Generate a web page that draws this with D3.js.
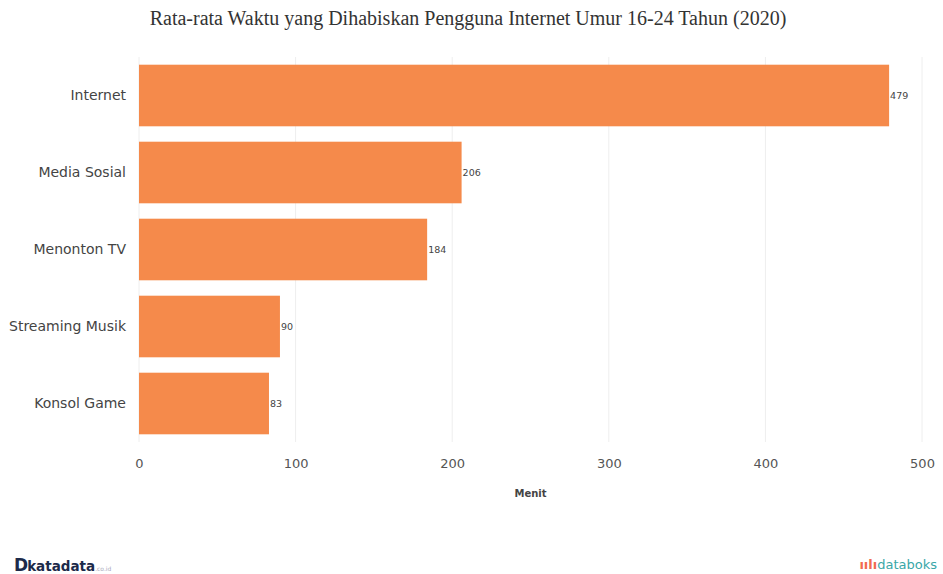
<!DOCTYPE html>
<html>
<head>
<meta charset="utf-8">
<script src="https://cdn.jsdelivr.net/npm/d3@7"></script>
<style>
    body { margin: 0; background: #fff; }
    .tick text { font-family: Verdana, 'DejaVu Sans', sans-serif; }
</style>
</head>
<body>
<div id="chart"></div>
<script>
const categories = ['Internet', 'Media Sosial', 'Menonton TV', 'Streaming Musik', 'Konsol Game'];
const values = [479, 206, 184, 90, 83];
const xTicks = [0, 100, 200, 300, 400, 500];

const data = categories.map((c, i) => ({ kategori: c, menit: values[i] }));

const width = 943;
const height = 574;
const margin = {top: 57, right: 21, bottom: 132, left: 139};
const sans = "Verdana, 'DejaVu Sans', sans-serif";

const svg = d3.select('#chart')
    .append('svg')
    .attr('width', width)
    .attr('height', height);

const x = d3.scaleLinear()
    .domain([0, 500])
    .range([margin.left, width - margin.right]);
const y = d3.scaleBand()
    .domain(categories)
    .range([margin.top, height - margin.bottom])
    .paddingInner(0.2)
    .paddingOuter(0.1);

// title
svg.append('text')
    .attr('x', 468)
    .attr('y', 25)
    .attr('text-anchor', 'middle')
    .style('font-family', "'Liberation Serif', 'Times New Roman', serif")
    .style('font-size', '20px')
    .style('fill', '#333')
    .text('Rata-rata Waktu yang Dihabiskan Pengguna Internet Umur 16-24 Tahun (2020)');

// grid
svg.append('g').selectAll('line')
    .data(xTicks)
    .enter()
    .append('line')
        .attr('x1', d => x(d))
        .attr('x2', d => x(d))
        .attr('y1', margin.top)
        .attr('y2', height - margin.bottom)
        .attr('stroke', '#eeeeee')
        .attr('stroke-width', 1);

// bars
svg.append('g').selectAll('rect')
    .data(data)
    .enter()
    .append('rect')
        .attr('x', x(0))
        .attr('y', d => y(d.kategori))
        .attr('width', d => x(d.menit) - x(0))
        .attr('height', y.bandwidth())
        .attr('fill', '#f58a4b');

// value labels
svg.append('g').selectAll('text')
    .data(data)
    .enter()
    .append('text')
        .attr('x', d => x(d.menit) + 1)
        .attr('y', d => y(d.kategori) + y.bandwidth() / 2 + 3.5)
        .style('font-family', sans)
        .style('font-size', '9.5px')
        .style('fill', '#444')
        .text(d => d.menit);

// category labels
svg.append('g').selectAll('text')
    .data(data)
    .enter()
    .append('text')
        .attr('x', margin.left - 13)
        .attr('y', d => y(d.kategori) + y.bandwidth() / 2 + 4.5)
        .attr('text-anchor', 'end')
        .style('font-family', sans)
        .style('font-size', '14px')
        .style('fill', '#444')
        .text(d => d.kategori);

// x axis
const xAxis = svg.append('g')
    .attr('transform', 'translate(0,' + (height - margin.bottom) + ')')
    .call(d3.axisBottom(x).tickValues(xTicks).tickSize(0).tickPadding(17));
xAxis.select('.domain').remove();
xAxis.selectAll('text')
    .style('font-size', '13px')
    .style('fill', '#555');

svg.append('text')
    .attr('x', (x(0) + x(500)) / 2)
    .attr('y', 497)
    .attr('text-anchor', 'middle')
    .style('font-family', sans)
    .style('font-size', '10px')
    .style('font-weight', 'bold')
    .style('fill', '#444')
    .text('Menit');

// logos
const kata = svg.append('text')
    .attr('x', 14)
    .attr('y', 571)
    .style('font-family', sans)
    .style('fill', '#1c2a4a');
kata.append('tspan')
    .style('font-size', '17px')
    .style('font-weight', 'bold')
    .text('D');
kata.append('tspan')
    .style('font-size', '13.5px')
    .style('font-weight', 'bold')
    .attr('dx', -1)
    .text('katadata');
kata.append('tspan')
    .style('font-size', '6px')
    .style('fill', '#aab')
    .text('.co.id');

const boks = svg.append('text')
    .attr('x', 937)
    .attr('y', 569)
    .attr('text-anchor', 'end')
    .style('font-family', sans)
    .style('font-size', '13px');
boks.append('tspan')
    .style('fill', '#f26b4f')
    .style('font-weight', 'bold')
    .text('ıılı');
boks.append('tspan')
    .style('fill', '#3aa7a8')
    .text('databoks');
</script>
</body>
</html>
